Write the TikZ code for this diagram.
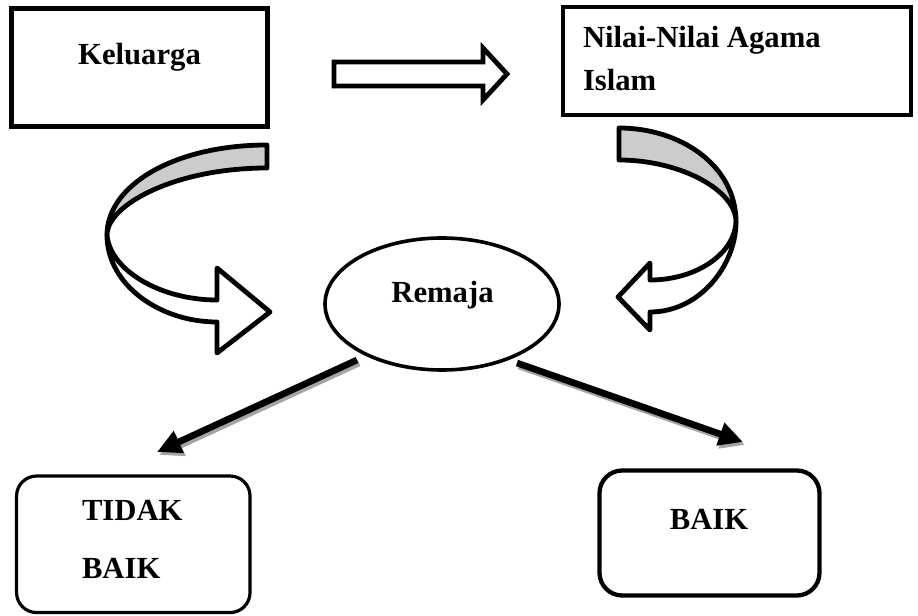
\documentclass[tikz,border=0pt]{standalone}
\usepackage{fontspec}
\setmainfont{Liberation Serif}
\usetikzlibrary{shapes.geometric,arrows.meta}
\definecolor{ribbongrey}{RGB}{204,204,204}
\definecolor{shadowgrey}{RGB}{165,165,165}
\tikzset{
  lbl/.style={font=\fontsize{23}{28}\selectfont\bfseries, inner sep=0pt, outer sep=0pt},
  sqbox/.style={draw, inner sep=0pt, outer sep=0pt, fill=white},
  rbox/.style={draw, inner sep=0pt, outer sep=0pt, fill=white},
  ribbon/.style={draw, line width=3.6pt, line join=round},
  hollowarrow/.style={draw, line width=3.6pt, line join=miter, fill=white},
  thickarrow/.style={line width=5pt, -{Triangle[length=18pt,width=17pt]}},
  shadowed/.style={transform canvas={xshift=1.5pt, yshift=-2.25pt}},
}
\begin{document}
\begin{tikzpicture}[x=0.75pt,y=-0.75pt]
\path[use as bounding box] (0,0) rectangle (918,616);

% boxes
\node[sqbox, line width=3.75pt, minimum width=192pt, minimum height=88.5pt] (kel) at (139,68) {};
\node[lbl, anchor=base] (keltext) at (139.5,65) {Keluarga};

\node[sqbox, line width=2.4pt, minimum width=261pt, minimum height=81pt] (nilai) at (737,61) {};
\node[lbl, anchor=base west] (nilai1) at (583,48) {Nilai-Nilai Agama};
\node[lbl, anchor=base west] (nilai2) at (583,91) {Islam};

% hollow straight arrow
\draw[hollowarrow] (334,62) -- (483,62) -- (483,48) -- (507,74) -- (483,100) -- (483,86) -- (334,86) -- cycle;

% left curved arrow
\draw[ribbon, fill=ribbongrey] (267,145) .. controls (175,145) and (107,185) .. (107,235)
   .. controls (107,205) and (175,168) .. (267,168) -- cycle;
\draw[ribbon, fill=white] (107,235) .. controls (107,285) and (160,322) .. (217,322)
   -- (217,353) -- (270,312) -- (217,268) -- (217,300)
   .. controls (160,300) and (110,270) .. (107,235) -- cycle;

% right curved arrow
\draw[ribbon, fill=ribbongrey] (619,128) .. controls (680,128) and (736,165) .. (736,222)
   .. controls (736,190) and (680,160) .. (619,160) -- cycle;
\draw[ribbon, fill=white] (736,222) .. controls (736,265) and (700,312) .. (650,312)
   -- (650,330) -- (618,297) -- (650,263) -- (650,280)
   .. controls (695,280) and (734,255) .. (736,222) -- cycle;

% ellipse
\node[draw, ellipse, line width=2.7pt, inner sep=0pt, minimum width=175.5pt, minimum height=99pt] (remaja) at (442,304) {};
\node[lbl, anchor=base] (remajatext) at (442.5,303) {Remaja};

% bottom boxes
\node[rbox, line width=2.4pt, rounded corners=15pt, minimum width=175.1pt, minimum height=102.4pt] (tidak) at (133.3,544.3) {};
\node[lbl, anchor=base west] (tidak1) at (82,521) {TIDAK};
\node[lbl, anchor=base west] (tidak2) at (82,578) {BAIK};

\node[rbox, line width=3.2pt, rounded corners=17pt, minimum width=165pt, minimum height=93.75pt] (baik) at (709.5,533) {};
\node[lbl, anchor=base] (baiktext) at (709,530) {BAIK};

% connectors from Remaja
\coordinate (ls) at (357,360);
\coordinate (lt) at (157,452);
\coordinate (rs) at (517,363);
\coordinate (rt) at (743,442);
\begin{scope}[shadowed]
\draw[thickarrow, shadowgrey] (ls) -- (lt);
\draw[thickarrow, shadowgrey] (rs) -- (rt);
\end{scope}
\draw[thickarrow, black] (ls) -- (lt);
\draw[thickarrow, black] (rs) -- (rt);
\end{tikzpicture}
\end{document}
